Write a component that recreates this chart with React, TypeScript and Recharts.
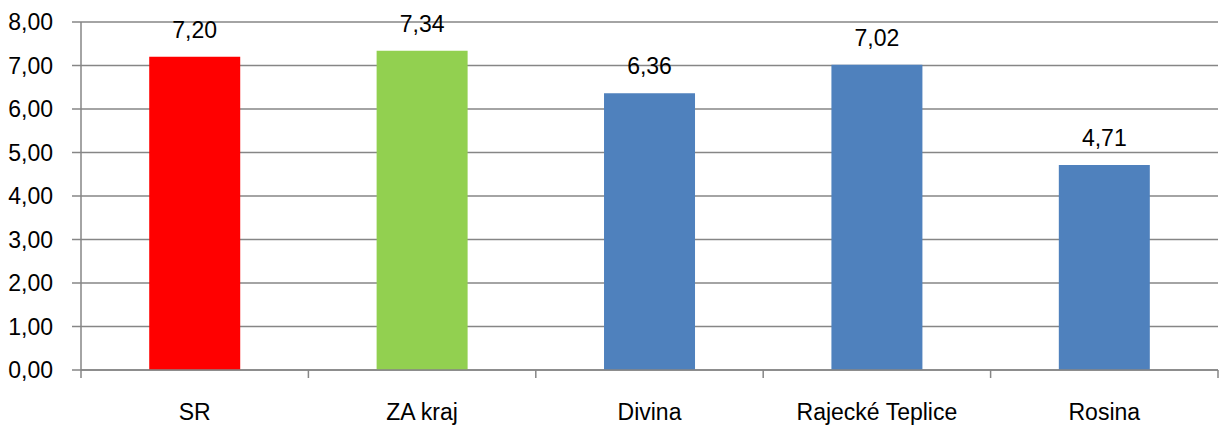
import React from 'react';
import { BarChart, Bar, XAxis, YAxis, CartesianGrid, Cell, LabelList } from 'recharts';

const categories = ['SR', 'ZA kraj', 'Divina', 'Rajecké Teplice', 'Rosina'];
const values = [7.2, 7.34, 6.36, 7.02, 4.71];
const barColors = ['#FF0000', '#92D050', '#4F81BD', '#4F81BD', '#4F81BD'];
const yTicks = [0, 1, 2, 3, 4, 5, 6, 7, 8];

const data = categories.map((name, i) => ({ name, value: values[i] }));

const FONT = '"Liberation Sans", Arial, sans-serif';
const FS = 23;
const GRID = '#868686';
const fmt = (v: number) => v.toFixed(2).replace('.', ',');

const XTick = (props: any) => {
  const { x, y, payload, index } = props;
  const off = payload && payload.offset ? payload.offset : 113.7;
  const last = index === categories.length - 1;
  return (
    <g>
      <line x1={x - off} y1={y} x2={x - off} y2={y + 8} stroke={GRID} strokeWidth={1.5} />
      {last && <line x1={x + off} y1={y} x2={x + off} y2={y + 8} stroke={GRID} strokeWidth={1.5} />}
      <text x={x} y={y + 50} textAnchor="middle" fontFamily={FONT} fontSize={FS} fill="#000">
        {payload.value}
      </text>
    </g>
  );
};

export default function App() {
  return (
    <div style={{ position: 'absolute', left: 0, top: 0, width: 1219, height: 427, background: '#fff' }}>
      <BarChart
        width={1219}
        height={427}
        data={data}
        margin={{ top: 22, right: 1, left: 0, bottom: 0 }}
        barCategoryGap="30%"
      >
        <CartesianGrid vertical={false} stroke={GRID} strokeWidth={1.5} />
        <XAxis
          dataKey="name"
          height={57}
          axisLine={{ stroke: GRID, strokeWidth: 1.5 }}
          tickLine={false}
          tickSize={0}
          tickMargin={0}
          interval={0}
          tick={<XTick />}
        />
        <YAxis
          width={81}
          domain={[0, 8]}
          ticks={yTicks}
          tickFormatter={fmt}
          axisLine={{ stroke: GRID, strokeWidth: 1.5 }}
          tickLine={{ stroke: GRID, strokeWidth: 1.5 }}
          tickSize={9}
          tickMargin={19}
          tick={{ fontFamily: FONT, fontSize: FS, fill: '#000' }}
          interval={0}
        />
        <Bar dataKey="value" isAnimationActive={false}>
          {data.map((d, i) => (
            <Cell key={d.name} fill={barColors[i]} />
          ))}
          <LabelList
            dataKey="value"
            position="top"
            offset={19}
            formatter={(v: any) => fmt(Number(v))}
            style={{ fontFamily: FONT, fontSize: FS, fill: '#000' }}
          />
        </Bar>
      </BarChart>
    </div>
  );
}
